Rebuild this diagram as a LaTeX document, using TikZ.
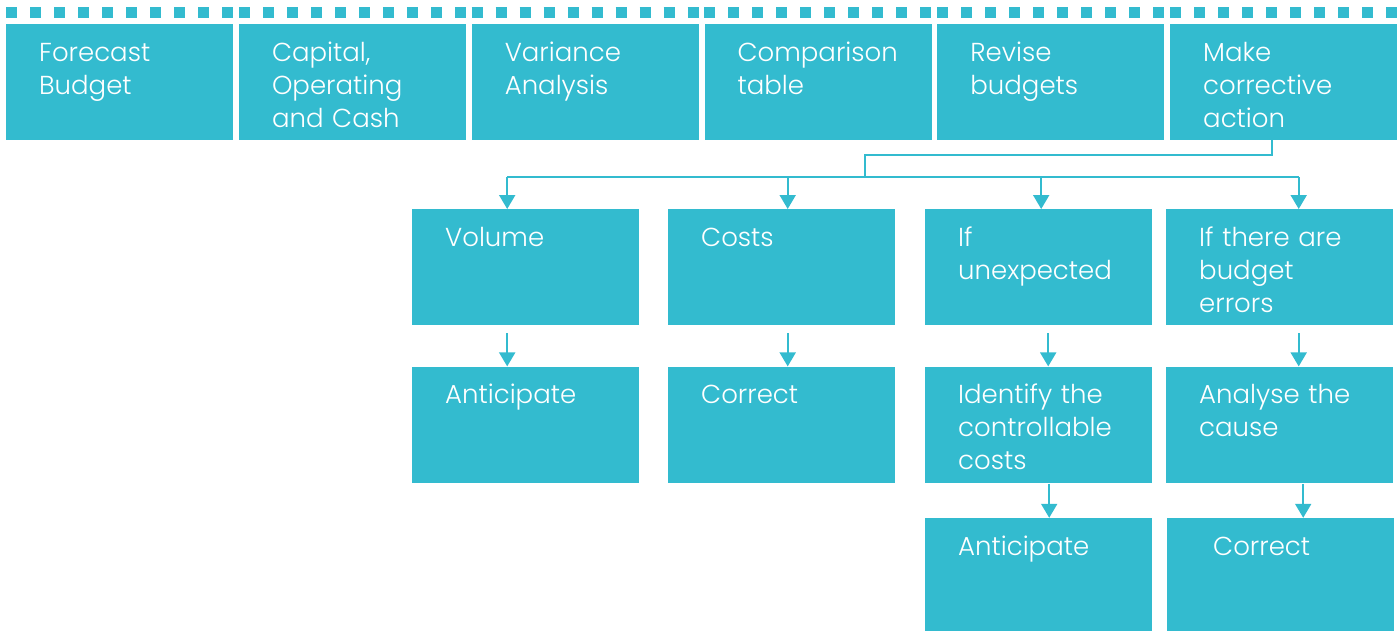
\documentclass[tikz,border=0pt]{standalone}
\usepackage{fontspec}
\setmainfont{Poppins Light}
\usetikzlibrary{positioning,arrows.meta}
\definecolor{tileblue}{RGB}{51,187,207}

\tikzset{
  tile/.style={fill=tileblue, text=white, anchor=north west, align=left,
    text width=161pt, inner xsep=33pt, inner ysep=17pt,
    text height=20pt, text depth=62pt,
    font=\fontsize{26}{33}\selectfont},
  link/.style={draw=tileblue, line width=2pt},
  arr/.style={link, -{Triangle[width=16pt,length=14pt]}},
  perf/.style={draw=tileblue, line width=11pt, dash pattern=on 11pt off 13pt},
}

\begin{document}
\begin{tikzpicture}[x=1pt,y=1pt,node distance=5.4pt]
        \useasboundingbox (0,0) rectangle (1398,-630);
        % top row of steps
        \node[tile] (fc) at (6,-24) {Forecast\\Budget};
        \node[tile, right=of fc] (cap) {Capital,\\Operating\\and Cash};
        \node[tile, right=of cap] (var) {Variance\\Analysis};
        \node[tile, right=of var] (cmp) {Comparison\\table};
        \node[tile, right=of cmp] (rev) {Revise\\budgets};
        \node[tile, right=of rev] (mca) {Make\\corrective\\action};
        % perforated strip above each step
        \foreach \n in {fc,cap,var,cmp,rev,mca}
            \draw[perf] ([yshift=11.5pt]\n.north west) -- ([yshift=11.5pt]\n.north east);

        % corrective actions
        \node[tile] (vol) at (412,-209) {Volume};
        \node[tile] (cost) at (668,-209) {Costs};
        \node[tile] (unexp) at (925,-209) {If\\unexpected};
        \node[tile] (err) at (1166,-209) {If there are\\budget\\errors};
        \node[tile, below=41pt of vol] (ant1) {Anticipate};
        \node[tile, below=41pt of cost] (fix1) {Correct};
        \node[tile, below=41pt of unexp] (ctrl) {Identify the\\controllable\\costs};
        \node[tile, below=41pt of err] (cause) {Analyse the\\cause};
        \node[tile, below=35pt of ctrl] (ant2) {Anticipate};
        \node[tile, below=35pt of cause, xshift=1pt] (fix2) [inner xsep=0pt, text width=227pt, execute at begin node=\hspace*{46pt}] {Correct};

        % branching from the last step
        \coordinate (rail) at (865,-177);
        \coordinate (vol-in) at ([xshift=-18.5pt]vol.north);
        \coordinate (cost-in) at ([xshift=6pt]cost.north);
        \coordinate (unexp-in) at ([xshift=2.5pt]unexp.north);
        \coordinate (err-in) at ([xshift=19pt]err.north);
        \draw[link] ([xshift=-11.5pt]mca.south) -- ++(0,-15) -| (rail);
        \draw[link] (rail -| vol-in) -- (rail -| err-in);
        \foreach \n in {vol,cost,unexp,err}
            \draw[arr] (rail -| \n-in) -- (\n-in);

        \draw[arr] ([xshift=-18.5pt,yshift=-8pt]vol.south) -- ([xshift=-18.5pt]ant1.north);
        \draw[arr] ([xshift=6pt,yshift=-8pt]cost.south) -- ([xshift=6pt]fix1.north);
        \draw[arr] ([xshift=9.5pt,yshift=-8pt]unexp.south) -- ([xshift=9.5pt]ctrl.north);
        \draw[arr] ([xshift=19pt,yshift=-8pt]err.south) -- ([xshift=19pt]cause.north);
        \draw[arr] ([xshift=10.5pt,yshift=-1pt]ctrl.south) -- ([xshift=10.5pt]ant2.north);
        \draw[arr] ([xshift=23.5pt,yshift=-1pt]cause.south) -- ([xshift=22.5pt]fix2.north);
    \end{tikzpicture}
\end{document}
